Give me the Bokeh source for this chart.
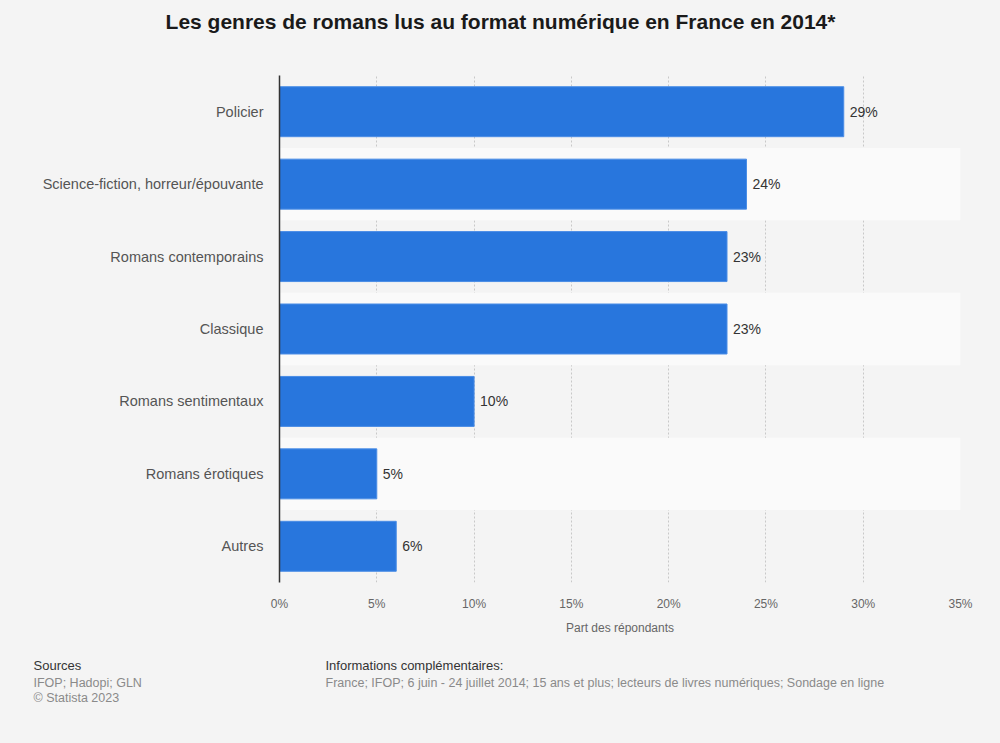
from bokeh.plotting import figure
from bokeh.models import Range1d, FactorRange, Label, ColumnDataSource
from bokeh.layouts import column
from bokeh.core.properties import value
from bokeh.embed import file_html
from bokeh.resources import INLINE

categories = ["Policier", "Science-fiction, horreur/épouvante", "Romans contemporains",
              "Classique", "Romans sentimentaux", "Romans érotiques", "Autres"]
values = [29, 24, 23, 23, 10, 5, 6]
x_ticks = [0, 5, 10, 15, 20, 25, 30, 35]

title_text = "Les genres de romans lus au format numérique en France en 2014*"
x_label = "Part des répondants"
sources_head = "Sources"
sources_lines = ["IFOP; Hadopi; GLN", "© Statista 2023"]
info_head = "Informations complémentaires:"
info_line = "France; IFOP; 6 juin - 24 juillet 2014; 15 ans et plus; lecteurs de livres numériques; Sondage en ligne"

FONT = "Liberation Sans"
BG = "#f4f4f4"
W = 1000


def blank_fig(h):
    f = figure(width=W, height=h, output_backend="svg", toolbar_location=None,
               x_range=Range1d(0, W), y_range=Range1d(h, 0),
               min_border=0, min_border_left=0, min_border_right=0,
               min_border_top=0, min_border_bottom=0, frame_align=False)
    f.axis.visible = False
    f.grid.visible = False
    f.outline_line_color = None
    f.background_fill_color = BG
    f.border_fill_color = BG
    return f


# ---- title
tf = blank_fig(68)
tf.add_layout(Label(x=500, y=20.5, text=title_text, text_align="center", text_baseline="middle",
                    text_font=FONT, text_font_size="21px", text_font_style="bold", text_color="#1a1a1a"))

# ---- main chart
p = figure(width=W, height=577, output_backend="svg", toolbar_location=None,
           y_range=FactorRange(factors=list(reversed(categories)), range_padding=0),
           x_range=Range1d(0, 35), frame_align=False,
           min_border_left=279, min_border_right=40, min_border_top=7, min_border_bottom=63)
p.background_fill_color = BG
p.border_fill_color = BG
p.outline_line_color = None

band_cats = [c for i, c in enumerate(categories) if i % 2 == 1]
p.hbar(y=band_cats, left=0, right=35, height=1.0, fill_color="#fafafa", line_color=None)

src = ColumnDataSource(dict(cat=categories, val=values, lab=[f"{v}%" for v in values]))
p.hbar(y="cat", right="val", left=0, height=0.69, source=src,
       fill_color="#2876dd", line_color="#4a8de6", line_width=1)
p.text(x="val", y="cat", text="lab", source=src, x_offset=6, text_baseline="middle",
       text_align="left", text_font=value(FONT), text_font_size="14px", text_color="#333333")

p.xaxis.ticker = x_ticks
p.xaxis.major_label_overrides = {t: f"{t}%" for t in x_ticks}
p.xaxis.axis_line_color = None
p.xaxis.major_tick_line_color = None
p.xaxis.minor_tick_line_color = None
p.xaxis.major_tick_out = 0
p.xaxis.major_tick_in = 0
p.xaxis.major_label_standoff = 14
p.xaxis.major_label_text_font = FONT
p.xaxis.major_label_text_font_size = "12px"
p.xaxis.major_label_text_color = "#666666"
p.xaxis.axis_label = x_label
p.xaxis.axis_label_text_font = FONT
p.xaxis.axis_label_text_font_size = "12px"
p.xaxis.axis_label_text_font_style = "normal"
p.xaxis.axis_label_text_color = "#666666"
p.xaxis.axis_label_standoff = 7

p.yaxis.axis_line_color = "#333333"
p.yaxis.axis_line_width = 1.5
p.yaxis.major_tick_line_color = None
p.yaxis.minor_tick_line_color = None
p.yaxis.major_tick_out = 0
p.yaxis.major_tick_in = 0
p.yaxis.major_label_standoff = 16
p.yaxis.major_label_text_font = FONT
p.yaxis.major_label_text_font_size = "14.5px"
p.yaxis.major_label_text_color = "#555555"

p.xgrid.grid_line_color = "#c8c8c8"
p.xgrid.grid_line_dash = "2 2"
p.xgrid.grid_line_width = 1
p.ygrid.grid_line_color = None

# ---- footer
ff = blank_fig(98)
ff.add_layout(Label(x=33, y=20, text=sources_head, text_align="left", text_baseline="middle",
                    text_font=FONT, text_font_size="13px", text_color="#333333"))
for i, line in enumerate(sources_lines):
    ff.add_layout(Label(x=33, y=37 + 15 * i, text=line, text_align="left", text_baseline="middle",
                        text_font=FONT, text_font_size="12.5px", text_color="#8a8a8a"))
ff.add_layout(Label(x=325, y=20, text=info_head, text_align="left", text_baseline="middle",
                    text_font=FONT, text_font_size="13px", text_color="#333333"))
ff.add_layout(Label(x=325, y=37, text=info_line, text_align="left", text_baseline="middle",
                    text_font=FONT, text_font_size="12.5px", text_color="#8a8a8a"))

layout = column(tf, p, ff, spacing=0, styles={"background-color": BG})
html = file_html(layout, INLINE)
html = html.replace("<head>", "<head><style>html, body { background-color: #f4f4f4; }</style>", 1)
open("out.html", "w").write(html)
